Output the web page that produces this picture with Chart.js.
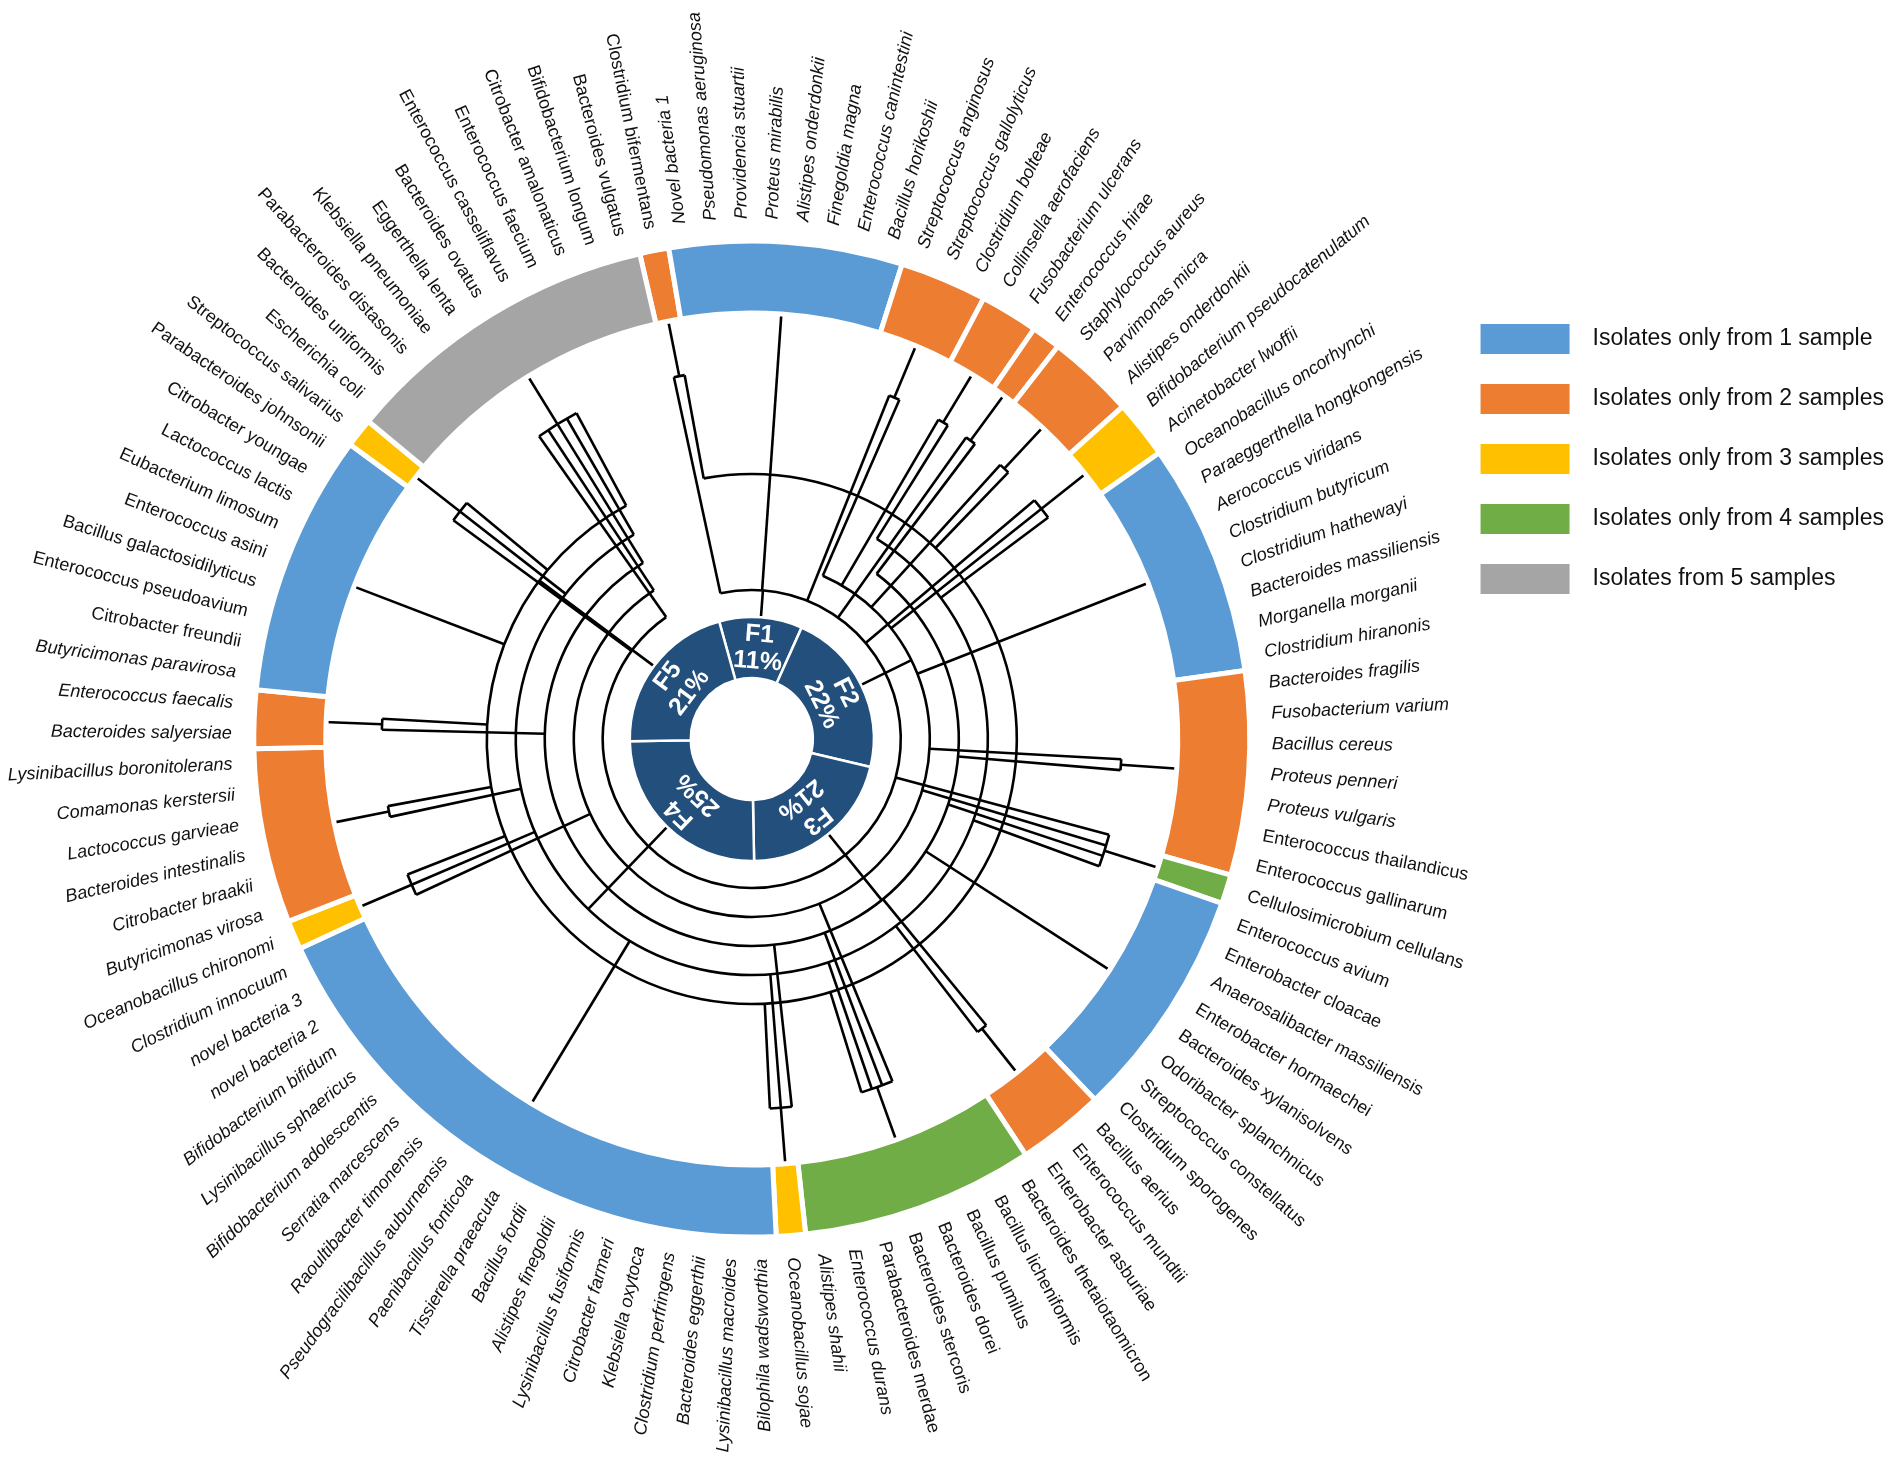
<!DOCTYPE html>
<html lang="en">
<head>
<meta charset="UTF-8">
<title>Isolates shared between samples</title>
<script src="https://cdn.jsdelivr.net/npm/chart.js"></script>
<style>
  html, body { margin: 0; padding: 0; background: #fff; }
</style>
</head>
<body>
<canvas id="chart" width="1900" height="1461"></canvas>
<script>
// species, clockwise from the top-left of the ring
const species = [
  "Clostridium bifermentans", "Novel bacteria 1", "Pseudomonas aeruginosa", "Providencia stuartii",
  "Proteus mirabilis", "Alistipes onderdonkii", "Finegoldia magna", "Enterococcus canintestini",
  "Bacillus horikoshii", "Streptococcus anginosus", "Streptococcus gallolyticus", "Clostridium bolteae",
  "Collinsella aerofaciens", "Fusobacterium ulcerans", "Enterococcus hirae", "Staphylococcus aureus",
  "Parvimonas micra", "Alistipes onderdonkii", "Bifidobacterium pseudocatenulatum", "Acinetobacter lwoffii",
  "Oceanobacillus oncorhynchi", "Paraeggerthella hongkongensis", "Aerococcus viridans", "Clostridium butyricum",
  "Clostridium hathewayi", "Bacteroides massiliensis", "Morganella morganii", "Clostridium hiranonis",
  "Bacteroides fragilis", "Fusobacterium varium", "Bacillus cereus", "Proteus penneri",
  "Proteus vulgaris", "Enterococcus thailandicus", "Enterococcus gallinarum", "Cellulosimicrobium cellulans",
  "Enterococcus avium", "Enterobacter cloacae", "Anaerosalibacter massiliensis", "Enterobacter hormaechei",
  "Bacteroides xylanisolvens", "Odoribacter splanchnicus", "Streptococcus constellatus", "Clostridium sporogenes",
  "Bacillus aerius", "Enterococcus mundtii", "Enterobacter asburiae", "Bacteroides thetaiotaomicron",
  "Bacillus licheniformis", "Bacillus pumilus", "Bacteroides dorei", "Bacteroides stercoris",
  "Parabacteroides merdae", "Enterococcus durans", "Alistipes shahii", "Oceanobacillus sojae",
  "Bilophila wadsworthia", "Lysinibacillus macroides", "Bacteroides eggerthii", "Clostridium perfringens",
  "Klebsiella oxytoca", "Citrobacter farmeri", "Lysinibacillus fusiformis", "Alistipes finegoldii",
  "Bacillus fordii", "Tissierella praeacuta", "Paenibacillus fonticola", "Pseudogracilibacillus auburnensis",
  "Raoultibacter timonensis", "Serratia marcescens", "Bifidobacterium adolescentis", "Lysinibacillus sphaericus",
  "Bifidobacterium bifidum", "novel bacteria 2", "novel bacteria 3", "Clostridium innocuum",
  "Oceanobacillus chironomi", "Butyricimonas virosa", "Citrobacter braakii", "Bacteroides intestinalis",
  "Lactococcus garvieae", "Comamonas kerstersii", "Lysinibacillus boronitolerans", "Bacteroides salyersiae",
  "Enterococcus faecalis", "Butyricimonas paravirosa", "Citrobacter freundii", "Enterococcus pseudoavium",
  "Bacillus galactosidilyticus", "Enterococcus asini", "Eubacterium limosum", "Lactococcus lactis",
  "Citrobacter youngae", "Parabacteroides johnsonii", "Streptococcus salivarius", "Escherichia coli",
  "Bacteroides uniformis", "Parabacteroides distasonis", "Klebsiella pneumoniae", "Eggerthella lenta",
  "Bacteroides ovatus", "Enterococcus casseliflavus", "Enterococcus faecium", "Citrobacter amalonaticus",
  "Bifidobacterium longum", "Bacteroides vulgatus"
];

// names printed upright instead of italic in the figure
const uprightSpecies = [
  "Enterococcus thailandicus", "Enterococcus gallinarum", "Cellulosimicrobium cellulans", "Enterococcus avium",
  "Enterobacter cloacae", "Anaerosalibacter massiliensis", "Enterobacter hormaechei", "Bacteroides xylanisolvens",
  "Odoribacter splanchnicus", "Streptococcus constellatus", "Clostridium sporogenes", "Bacillus aerius",
  "Enterococcus mundtii", "Enterobacter asburiae", "Bacteroides thetaiotaomicron", "Bacillus licheniformis",
  "Bacillus pumilus", "Bacteroides dorei", "Bacteroides stercoris", "Parabacteroides merdae",
  "Citrobacter freundii", "Enterococcus pseudoavium", "Bacillus galactosidilyticus", "Enterococcus asini",
  "Eubacterium limosum", "Lactococcus lactis", "Citrobacter youngae", "Parabacteroides johnsonii",
  "Streptococcus salivarius", "Escherichia coli", "Bacteroides uniformis", "Parabacteroides distasonis",
  "Klebsiella pneumoniae", "Eggerthella lenta", "Bacteroides ovatus", "Enterococcus casseliflavus",
  "Enterococcus faecium", "Citrobacter amalonaticus", "Bifidobacterium longum", "Bacteroides vulgatus",
  "Clostridium bifermentans"
];

// consecutive runs of species sharing the same set of samples
const blockSizes = [1, 8, 3, 2, 1, 3, 2, 8, 7, 1, 8, 3, 8, 1, 20, 1, 6, 2, 9, 1, 11];
// samples (0 = F1 ... 4 = F5) each run was isolated from
const blockSamples = [
  [0, 4], [0], [0, 1], [1, 3], [0, 2], [1, 4], [0, 1, 3], [1], [1, 2], [0, 1, 2, 3], [2],
  [2, 3], [1, 2, 3, 4], [2, 3, 4], [3], [1, 3, 4], [3, 4], [2, 4], [4], [0, 3, 4], [0, 1, 2, 3, 4]
];

const sampleNames = ["F1", "F2", "F3", "F4", "F5"];
const sampleShares = [11, 22, 21, 25, 21];

const groupLabels = [
  "Isolates only from 1 sample",
  "Isolates only from 2 samples",
  "Isolates only from 3 samples",
  "Isolates only from 4 samples",
  "Isolates from 5 samples"
];
const groupColors = ["#5b9bd5", "#ed7d31", "#ffc000", "#70ad47", "#a5a5a5"];

const FONT = '"Liberation Sans", Arial, sans-serif';
const OUTER_R = 498;   // outer edge of the coloured ring
const HOLE_R = 61;     // white hole in the middle

const mid = arc => (arc.startAngle + arc.endAngle) / 2;

// lines from each run of species down to the circles of its samples
const treePlugin = {
  id: 'tree',
  beforeDatasetsDraw(chart) {
    const ring = chart.getDatasetMeta(0).data;
    const core = chart.getDatasetMeta(2).data;
    const cx = ring[0].x, cy = ring[0].y;
    const rIn = ring[0].innerRadius + 2;
    const rCore = core[0].outerRadius;
    const rJoin = rIn - 58;
    const sampleR = sampleNames.map((s, k) => rCore + 27 + k * 29);
    const spread = 1.7 * Math.PI / 180;
    const span = sampleNames.map(() => [Infinity, -Infinity]);
    const touch = (k, a) => {
      span[k][0] = Math.min(span[k][0], a);
      span[k][1] = Math.max(span[k][1], a);
    };
    const ctx = chart.ctx;
    const seg = (a, r0, r1) => {
      ctx.beginPath();
      ctx.moveTo(cx + r0 * Math.cos(a), cy + r0 * Math.sin(a));
      ctx.lineTo(cx + r1 * Math.cos(a), cy + r1 * Math.sin(a));
      ctx.stroke();
    };
    ctx.save();
    ctx.strokeStyle = '#000';
    ctx.lineWidth = 2.6;

    ring.forEach((arc, b) => {
      const a = mid(arc);
      const ks = blockSamples[b];
      if (ks.length === 1) {
        seg(a, rIn, sampleR[ks[0]]);
        touch(ks[0], a);
        return;
      }
      seg(a, rIn, rJoin);
      const a0 = a - spread * (ks.length - 1) / 2;
      ctx.beginPath();
      ctx.arc(cx, cy, rJoin, a0, a0 + spread * (ks.length - 1));
      ctx.stroke();
      ks.forEach((k, j) => {
        const aj = a0 + j * spread;
        seg(aj, rJoin, sampleR[k]);
        touch(k, aj);
      });
    });

    core.forEach((arc, k) => {
      seg(mid(arc), rCore, sampleR[k]);
      touch(k, mid(arc));
    });

    span.forEach(([a0, a1], k) => {
      ctx.beginPath();
      ctx.arc(cx, cy, sampleR[k], a0, a1);
      ctx.stroke();
    });
    ctx.restore();
  }
};

// species names round the ring and the sample names in the middle
const labelPlugin = {
  id: 'leafLabels',
  afterDatasetsDraw(chart) {
    const ctx = chart.ctx;
    const leaves = chart.getDatasetMeta(1).data;
    const ring = chart.getDatasetMeta(0).data[0];
    const r = ring.outerRadius + 22;
    ctx.save();
    ctx.fillStyle = '#111';
    ctx.textBaseline = 'middle';
    leaves.forEach((arc, i) => {
      const a = mid(arc);
      let deg = a * 180 / Math.PI + 90;
      while (deg > 180) deg -= 360;
      while (deg <= -180) deg += 360;
      const outward = deg > -9 && deg <= 176;
      ctx.save();
      ctx.translate(arc.x + r * Math.cos(a), arc.y + r * Math.sin(a));
      ctx.rotate(outward ? a : a + Math.PI);
      ctx.textAlign = outward ? 'left' : 'right';
      ctx.font = (uprightSpecies.includes(species[i]) ? '' : 'italic ') + '18px ' + FONT;
      ctx.fillText(species[i], 0, 0);
      ctx.restore();
    });

    const core = chart.getDatasetMeta(2).data;
    ctx.fillStyle = '#fff';
    ctx.textAlign = 'center';
    ctx.font = 'bold 25px ' + FONT;
    core.forEach((arc, k) => {
      const a = mid(arc);
      const rm = (arc.innerRadius + arc.outerRadius) / 2;
      ctx.save();
      ctx.translate(arc.x + rm * Math.cos(a), arc.y + rm * Math.sin(a));
      ctx.rotate(a + Math.PI / 2);
      ctx.fillText(sampleNames[k], 0, -13);
      ctx.fillText(sampleShares[k] + '%', 0, 14);
      ctx.restore();
    });
    ctx.restore();
  }
};

new Chart(document.getElementById('chart'), {
  type: 'doughnut',
  data: {
    labels: species,
    datasets: [
      {
        label: 'Sample groups',
        data: blockSizes,
        backgroundColor: blockSamples.map(s => groupColors[s.length - 1]),
        borderColor: '#fff',
        borderWidth: 5,
        weight: 72,
        rotation: -13
      },
      {
        label: 'Species',
        data: species.map(() => 1),
        backgroundColor: 'rgba(0,0,0,0)',
        borderWidth: 0,
        weight: 304,
        rotation: -13
      },
      {
        label: 'Samples',
        data: sampleShares,
        backgroundColor: '#224f7c',
        borderColor: '#fff',
        borderWidth: 2.5,
        weight: 61,
        rotation: -15.5
      }
    ]
  },
  options: {
    responsive: false,
    animation: false,
    devicePixelRatio: 1,
    events: [],
    radius: OUTER_R,
    cutout: (HOLE_R / OUTER_R * 100) + '%',
    layout: { padding: { left: 53, top: 17, right: 6, bottom: 0 } },
    plugins: {
      tooltip: { enabled: false },
      legend: {
        position: 'right',
        align: 'start',
        title: { display: true, text: ' ', font: { size: 10 }, padding: { top: 265, bottom: 0 } },
        labels: {
          boxWidth: 89,
          boxHeight: 30,
          padding: 30,
          color: '#111',
          font: { size: 23, family: FONT },
          generateLabels: () => groupLabels.map((t, i) => ({
            text: '\u2002' + t,
            fillStyle: groupColors[i],
            strokeStyle: groupColors[i],
            fontColor: '#111',
            lineWidth: 0,
            hidden: false,
            index: i
          }))
        }
      }
    }
  },
  plugins: [treePlugin, labelPlugin]
});
</script>
</body>
</html>
